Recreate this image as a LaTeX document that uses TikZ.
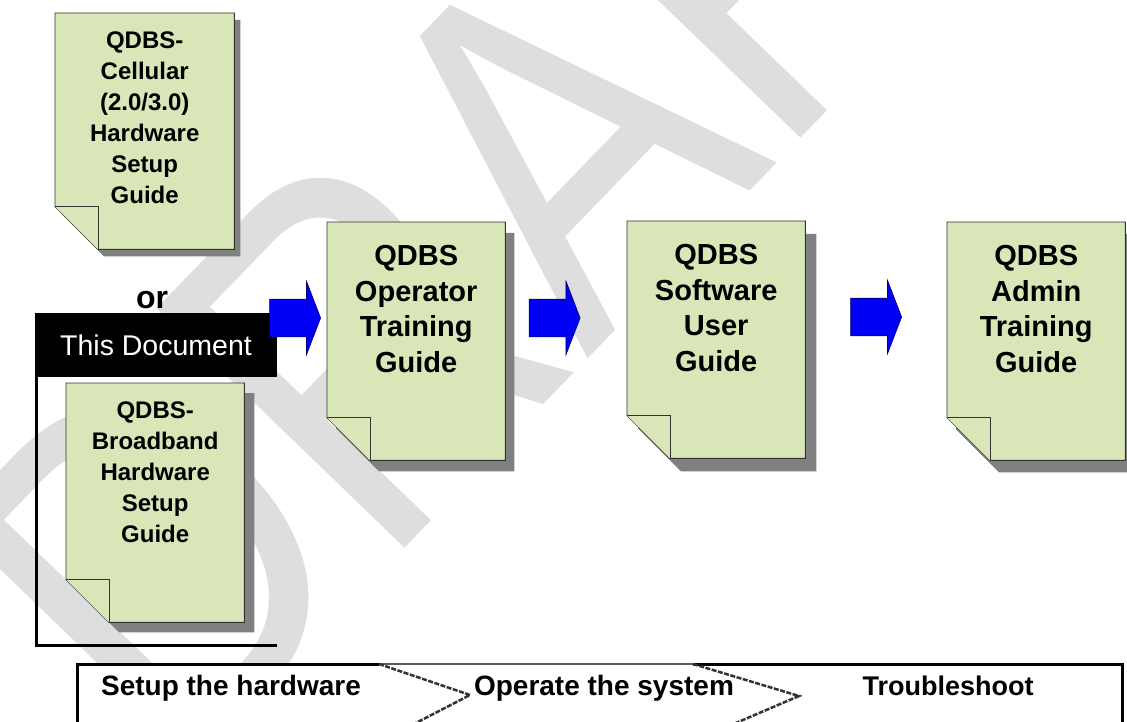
\documentclass[tikz,border=0pt]{standalone}
\usepackage{fontspec}
\setmainfont{Liberation Sans}
\usepackage{tikz}
\usetikzlibrary{shapes.arrows,positioning,calc}
\definecolor{guideGreen}{HTML}{D8E6B8}
\definecolor{guideEdge}{HTML}{333333}
\definecolor{guideShadow}{HTML}{808080}
\definecolor{flowBlue}{HTML}{0000F5}
\definecolor{flowBlueDark}{HTML}{00006E}
\definecolor{draftGray}{HTML}{DEDEDE}
\definecolor{stageLine}{HTML}{333333}

\tikzset{
  guide page/.style={rectangle,inner sep=0pt,anchor=north west},
  paper/.style={fill=guideGreen,draw=guideEdge,line width=0.9pt,line join=miter}
}

% shadow, sheet and turned-down corner behind a guide page node
\newcommand\guidepaper[4]{%
  \fill[guideShadow] ($(#1.north west)+(#3,#4)$) -| ($(#1.south east)+(#3,#4)$)
    -- ($(#1.south west)+(#2+#3,#4)$) -- ($(#1.south west)+(#3,#4-#2)$) -- cycle;
  \draw[paper] (#1.north west) -| (#1.south east) -- ($(#1.south west)+(#2,0)$)
    -- ($(#1.south west)+(0,-#2)$) -- cycle;
  \draw[paper] ($(#1.south west)+(0,-#2)$) -| ($(#1.south west)+(#2,0)$);
}

\begin{document}
\begin{tikzpicture}[x=1pt,y=-1pt,
  draft mark/.style={text=draftGray,font=\fontsize{501}{501}\selectfont,inner sep=0pt},
  main text/.style={align=center,inner sep=0pt,anchor=north,font=\bfseries\fontsize{29}{35.6}\selectfont},
  side text/.style={align=center,inner sep=0pt,anchor=north,font=\bfseries\fontsize{24}{31}\selectfont},
  flow arrow/.style={single arrow,fill=flowBlue,draw=flowBlueDark,line width=0.6pt,
    single arrow head extend=18pt,single arrow tip angle=138,
    minimum height=51pt,minimum width=0pt,inner xsep=0pt,inner ysep=18.5pt},
  stage text/.style={anchor=base,inner sep=0pt,font=\bfseries\fontsize{28}{28}\selectfont},
  bar line/.style={line width=3pt},
  chevron/.style={draw=stageLine,line width=2.5pt,dash pattern=on 5pt off 1.5pt}]
\useasboundingbox (0,0) rectangle (1127,722);
\clip (0,0) rectangle (1127,722);

\node[draft mark,rotate=46,xscale=0.82,anchor=base west] (draft) at (175,786) {DRAFT};

% hardware guides on the left
\node[guide page,minimum width=179pt,minimum height=236pt] (cellpage) at (55,13) {};
\guidepaper{cellpage}{43}{6}{7}
\node[side text,below=19pt of cellpage.north] (celltext)
  {QDBS-\\Cellular\\(2.0/3.0)\\Hardware\\Setup\\Guide};

\node[font=\bfseries\fontsize{32}{32}\selectfont,inner sep=0pt] (ortext) at (152,300) {or};
\node[fill=black,text=white,minimum width=242pt,minimum height=64pt,inner sep=0pt,
  font=\fontsize{28.5}{28.5}\selectfont] (thisdoc) at (156,345) {This Document};
\coordinate (framecorner) at (277,645);
\draw[bar line] ([xshift=1.5pt]thisdoc.south west) |- (framecorner);

\node[guide page,minimum width=178pt,minimum height=239pt] (bbpage) at (66,383) {};
\guidepaper{bbpage}{43}{10}{10}
\node[side text,below=19pt of bbpage.north] (bbtext)
  {QDBS-\\Broadband\\Hardware\\Setup\\Guide};

% the three guides that follow
\node[guide page,minimum width=178pt,minimum height=238pt] (oppage) at (327,222) {};
\guidepaper{oppage}{43}{9}{11}
\node[main text,below=23pt of oppage.north] (optext) {QDBS\\Operator\\Training\\Guide};

\node[guide page,minimum width=178pt,minimum height=237pt] (swpage) at (627,221) {};
\guidepaper{swpage}{43}{11}{13}
\node[main text,below=23pt of swpage.north] (swtext) {QDBS\\Software\\User\\Guide};

\node[guide page,minimum width=178pt,minimum height=238pt] (adminpage) at (947,222) {};
\guidepaper{adminpage}{43}{9}{12}
\node[main text,below=23pt of adminpage.north] (admintext) {QDBS\\Admin\\Training\\Guide};

\node[flow arrow] (arrowA) at (291.5,318) {};
\node[flow arrow] (arrowB) at (551,318) {};
\node[flow arrow] (arrowC) at (872.5,317) {};

% stage bar along the bottom
\coordinate (barnw) at (77,664);
\coordinate (barne) at (1122,664);
\coordinate (barsw) at (77,740);
\coordinate (barse) at (1122,740);
\coordinate (chevAtop) at (379,664);
\coordinate (chevAtip) at (470,695);
\coordinate (chevAbot) at (383,740);
\coordinate (chevBtop) at (693,664);
\coordinate (chevBtip) at (799,696);
\coordinate (chevBbot) at (696,740);
\fill[white] (barnw) rectangle (barse);
\draw[bar line] (barsw) |- (chevAtop);
\draw[stageLine!80,line width=1.2pt] (chevAtop) -- (chevBtop);
\draw[bar line] (chevBtop) -| (barse);
\draw[chevron] (chevAtop) -- (chevAtip) -- (chevAbot);
\draw[chevron] (chevBtop) -- (chevBtip) -- (chevBbot);
\node[stage text] (hwstage) at (231,695) {Setup the hardware};
\node[stage text] (opstage) at (604,695) {Operate the system};
\node[stage text,font=\bfseries\fontsize{27}{27}\selectfont] (tsstage) at (948,695) {Troubleshoot};
\end{tikzpicture}
\end{document}
